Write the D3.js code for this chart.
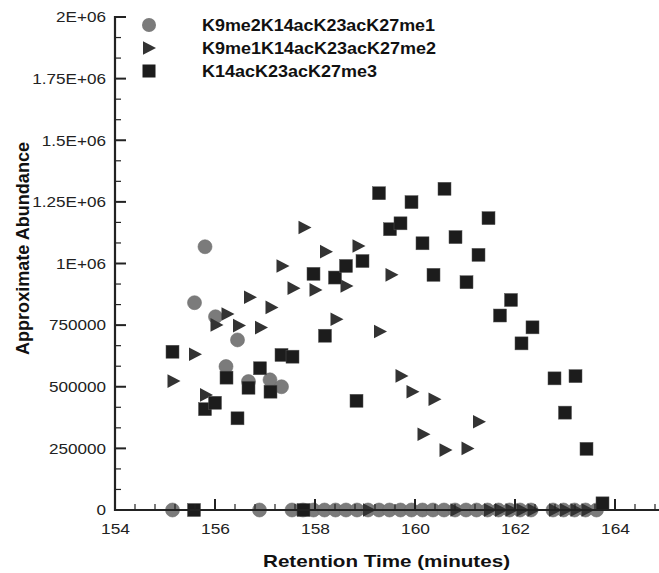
<!DOCTYPE html>
<html><head><meta charset="utf-8">
<script src="https://cdn.jsdelivr.net/npm/d3@7"></script>
<style>
html,body{margin:0;padding:0;background:#fff;}
svg{display:block;font-family:"Liberation Sans",Arial,sans-serif;}
</style></head>
<body><svg id="chart" width="659" height="573"></svg>
<script>
// ---- data (retention time in minutes, approximate abundance) ----
const seriesNames = ["K9me2K14acK23acK27me1", "K9me1K14acK23acK27me2", "K14acK23acK27me3"];

const me1Times = [155.59,155.80,156.01,156.22,156.45,156.67,157.10,157.33,
  155.15,156.89,157.54,157.76,157.97,158.19,158.41,158.62,158.84,159.06,159.28,159.49,159.71,159.93,
  160.15,160.36,160.58,160.80,161.02,161.23,161.45,161.67,161.89,162.10,162.32,162.76,162.97,163.19,163.41,163.63];
const me1Values = [841000,1068000,784000,582000,690000,521000,528000,500000,
  0,0,0,0,0,0,0,0,0,0,0,0,0,0,
  0,0,0,0,0,0,0,0,0,0,0,0,0,0,0,0];

const me2Times = [155.17,155.60,155.82,156.03,156.25,156.48,156.70,156.92,157.13,157.35,157.57,157.79,
  158.01,158.22,158.43,158.63,158.87,159.30,159.53,159.73,159.95,160.17,160.39,160.61,161.05,161.28,
  159.08,160.83,161.50,161.72,161.93,162.15,162.37,162.80,163.02,163.23,163.45];
const me2Values = [523000,632000,467000,751000,795000,748000,863000,740000,822000,990000,900000,1146000,
  893000,1048000,774000,909000,1071000,724000,954000,544000,480000,307000,449000,243000,250000,358000,
  0,0,0,0,0,0,0,0,0,0,0];

const me3Times = [155.15,155.80,156.00,156.23,156.45,156.67,156.90,157.11,157.33,157.55,157.97,158.20,
  158.40,158.62,158.83,158.95,159.28,159.50,159.71,159.93,160.15,160.37,160.59,160.81,161.03,161.27,
  161.47,161.70,161.92,162.13,162.35,162.79,163.00,163.21,163.43,163.75,155.58,157.77];
const me3Values = [642000,409000,435000,537000,372000,496000,575000,480000,629000,622000,958000,707000,
  943000,990000,443000,1010000,1285000,1139000,1163000,1249000,1082000,954000,1303000,1107000,924000,1035000,
  1184000,789000,852000,676000,741000,534000,395000,543000,248000,27000,0,0];

const xMajorTicks = [154,156,158,160,162,164];
const yMajorTicks = [0,250000,500000,750000,1000000,1250000,1500000,1750000,2000000];
const yTickLabels = ["0","250000","500000","750000","1E+06","1.25E+06","1.5E+06","1.75E+06","2E+06"];

// ---- drawing ----
(function () {
const svg = d3.select("#chart");
const mLeft = 115, mRight = 659, mTop = 17, mBottom = 510;
const x = d3.scaleLinear().domain([154, 164.88]).range([mLeft, mRight]);
const y = d3.scaleLinear().domain([0, 2000000]).range([mBottom, mTop]);

const axisColor = "#222";
const stretch = function (sel, k) {
  sel.each(function () {
    const w = this.getComputedTextLength();
    d3.select(this).attr("textLength", w * k).attr("lengthAdjust", "spacingAndGlyphs");
  });
};

const xMinor = d3.range(0, 28).map(i => 154 + i * 0.4).filter((v, i) => v <= 164.88 && i % 5 !== 0);
const yMinor = d3.range(0, 25).map(i => i * 250000 / 3).filter((v, i) => i % 3 !== 0);

const g = svg.append("g");

const xAxis = d3.axisBottom(x).tickValues(xMajorTicks).tickSize(0).tickPadding(13).tickFormat(d3.format("d"));
const xg = g.append("g").attr("transform", `translate(0,${mBottom})`).call(xAxis);
xg.select(".domain").remove();
xg.selectAll("text").attr("font-size", 15.5).attr("fill", "#222").attr("font-family", "Liberation Sans, Arial, sans-serif");
stretch(xg.selectAll("text"), 1.12);

const yAxis = d3.axisLeft(y).tickValues(yMajorTicks).tickSize(0).tickPadding(9).tickFormat((d, i) => yTickLabels[i]);
const yg = g.append("g").attr("transform", `translate(${mLeft},0)`).call(yAxis);
yg.select(".domain").remove();
yg.selectAll("text").attr("font-size", 15).attr("fill", "#222").attr("font-family", "Liberation Sans, Arial, sans-serif");
stretch(yg.selectAll("text"), 1.14);

const me1 = me1Times.map((t, i) => ({t, v: me1Values[i]}));
const me2 = me2Times.map((t, i) => ({t, v: me2Values[i]}));
const me3 = me3Times.map((t, i) => ({t, v: me3Values[i]}));

const marks = g.append("g");
marks.selectAll("circle.me1").data(me1).join("circle").attr("class", "me1")
  .attr("cx", d => x(d.t)).attr("cy", d => y(d.v)).attr("r", 7)
  .attr("fill", "#7b7b7b").attr("stroke", "#6e6e6e").attr("stroke-width", 0.6);

const triPath = "M-6,-6.8 L7,0 L-6,6.8 Z";
marks.selectAll("path.me2").data(me2).join("path").attr("class", "me2")
  .attr("d", triPath).attr("transform", d => `translate(${x(d.t)},${y(d.v)})`)
  .attr("fill", "#333");

marks.selectAll("rect.me3").data(me3).join("rect").attr("class", "me3")
  .attr("x", d => x(d.t) - 6.5).attr("y", d => y(d.v) - 6.5).attr("width", 13).attr("height", 13)
  .attr("fill", "#1c1c1c").attr("stroke", "#555").attr("stroke-width", 0.5);

const ax = g.append("g").attr("stroke", axisColor);
ax.append("line").attr("x1", mLeft).attr("x2", mRight).attr("y1", mBottom).attr("y2", mBottom).attr("stroke-width", 2);
ax.append("line").attr("x1", mLeft).attr("x2", mLeft).attr("y1", mTop - 1).attr("y2", mBottom + 1).attr("stroke-width", 2.2);
ax.selectAll("line.xmaj").data(xMajorTicks).join("line").attr("class", "xmaj")
  .attr("x1", d => x(d)).attr("x2", d => x(d)).attr("y1", mBottom).attr("y2", mBottom - 11).attr("stroke-width", 2);
ax.selectAll("line.xmin").data(xMinor).join("line").attr("class", "xmin")
  .attr("x1", d => x(d)).attr("x2", d => x(d)).attr("y1", mBottom).attr("y2", mBottom - 6).attr("stroke-width", 1.2);
ax.selectAll("line.ymaj").data(yMajorTicks).join("line").attr("class", "ymaj")
  .attr("x1", mLeft).attr("x2", mLeft + 11).attr("y1", d => y(d)).attr("y2", d => y(d)).attr("stroke-width", 2);
ax.selectAll("line.ymin").data(yMinor).join("line").attr("class", "ymin")
  .attr("x1", mLeft).attr("x2", mLeft + 6).attr("y1", d => y(d)).attr("y2", d => y(d)).attr("stroke-width", 1.2);

svg.append("text").attr("x", 386.5).attr("y", 567).attr("text-anchor", "middle")
  .attr("font-size", 17).attr("font-weight", "bold").attr("fill", "#111")
  .attr("textLength", 247).attr("lengthAdjust", "spacingAndGlyphs")
  .text("Retention Time (minutes)");
svg.append("text").attr("transform", "translate(29,248.5) rotate(-90)").attr("text-anchor", "middle")
  .attr("font-size", 17.5).attr("font-weight", "bold").attr("fill", "#111")
  .attr("textLength", 213).attr("lengthAdjust", "spacingAndGlyphs")
  .text("Approximate Abundance");

const legendLengths = [233, 234, 175];
const leg = svg.append("g").attr("transform", "translate(149,25)");
const rows = leg.selectAll("g").data(seriesNames).join("g").attr("transform", (d, i) => `translate(0,${i * 23})`);
rows.each(function(d, i) {
  const r = d3.select(this);
  if (i === 0) r.append("circle").attr("r", 7).attr("fill", "#7b7b7b");
  else if (i === 1) r.append("path").attr("d", triPath).attr("fill", "#333");
  else r.append("rect").attr("x", -6.5).attr("y", -6.5).attr("width", 13).attr("height", 13).attr("fill", "#1c1c1c");
  r.append("text").attr("x", 53).attr("y", 5.8).attr("font-size", 16.5).attr("font-weight", "bold").attr("fill", "#111")
    .attr("textLength", legendLengths[i]).attr("lengthAdjust", "spacingAndGlyphs").text(d);
});
})();
</script>
</body></html>
